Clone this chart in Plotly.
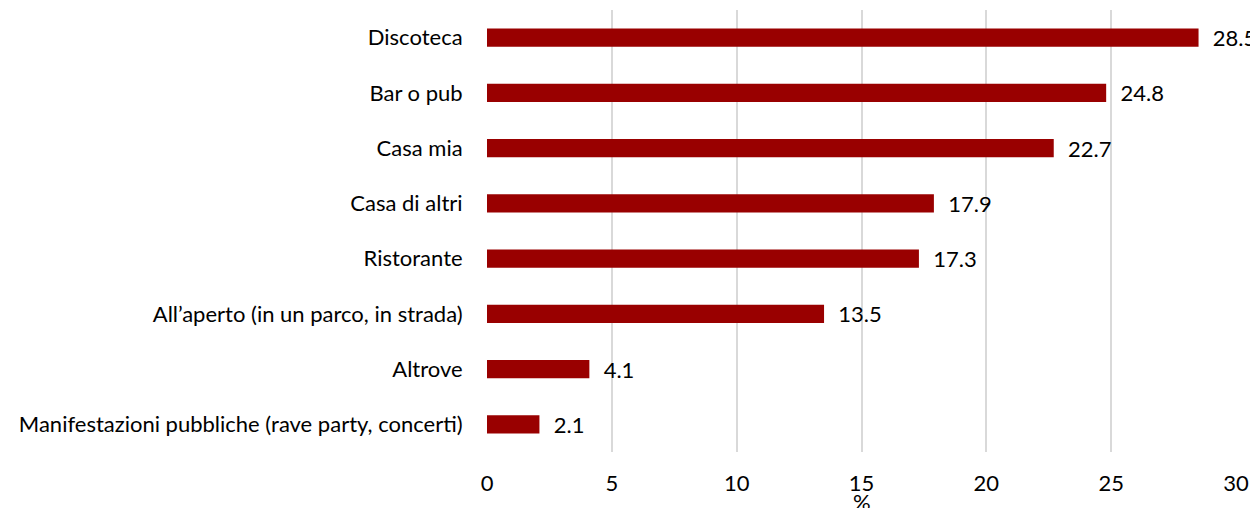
import plotly.graph_objects as go

categories = [
    "Manifestazioni pubbliche (rave party, concerti)",
    "Altrove",
    "All’aperto (in un parco, in strada)",
    "Ristorante",
    "Casa di altri",
    "Casa mia",
    "Bar o pub",
    "Discoteca",
]
values = [2.1, 4.1, 13.5, 17.3, 17.9, 22.7, 24.8, 28.5]
x_ticks = [0, 5, 10, 15, 20, 25, 30]

FONT = "Lato"
FSIZE = 22
BAR_COLOR = "#990000"

# page body has an 8px margin, so the figure is 8px smaller and margins shift
fig = go.Figure(
    go.Bar(
        y=categories,
        x=values,
        orientation="h",
        marker=dict(color=BAR_COLOR, line=dict(width=0)),
        width=0.33,
        text=["  " + f"{v:.1f}" for v in values],
        textposition="outside",
        constraintext="none",
        textfont=dict(family=FONT, size=FSIZE, color="#000000"),
        cliponaxis=False,
    )
)

fig.update_layout(
    width=1250,
    height=500,
    margin=dict(l=479, r=22, t=2, b=56),
    plot_bgcolor="white",
    paper_bgcolor="white",
    showlegend=False,
    font=dict(family=FONT, size=FSIZE, color="#000000"),
    xaxis=dict(
        range=[0, 30],
        tickvals=x_ticks,
        showgrid=True,
        gridcolor="#d9d9d9",
        gridwidth=2,
        zeroline=False,
        ticks="outside",
        ticklen=12,
        tickcolor="rgba(0,0,0,0)",
        tickfont=dict(family=FONT, size=FSIZE),
        automargin=False,
    ),
    yaxis=dict(
        showgrid=False,
        zeroline=False,
        ticks="outside",
        ticklen=19,
        tickcolor="rgba(0,0,0,0)",
        tickfont=dict(family=FONT, size=FSIZE),
        automargin=False,
    ),
    annotations=[
        dict(
            text="%",
            xref="paper",
            yref="paper",
            x=0.5,
            y=-0.112,
            xanchor="center",
            yanchor="middle",
            showarrow=False,
            font=dict(family=FONT, size=FSIZE),
        )
    ],
)

fig.write_html("out.html")
